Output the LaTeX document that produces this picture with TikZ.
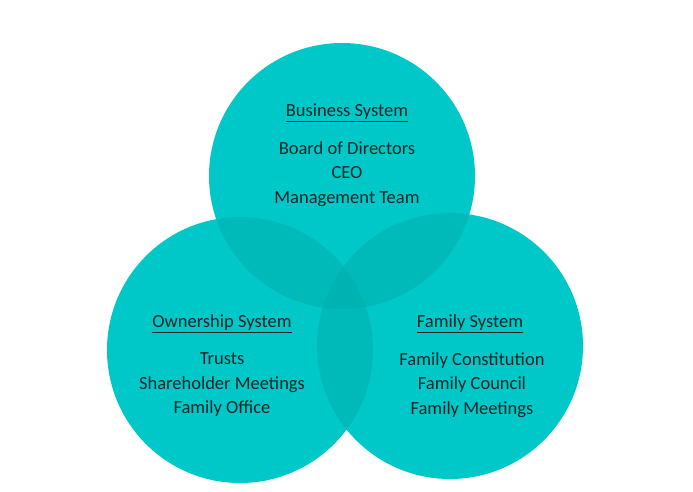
\documentclass[tikz,border=0pt]{standalone}
\usepackage{fontspec}
\setmainfont{Carlito}
\definecolor{tealA}{HTML}{00C8C8}
\definecolor{tealB}{HTML}{00BABA}
\definecolor{tealC}{HTML}{00B3B3}
\definecolor{txt}{HTML}{142626}
\begin{document}
\begin{tikzpicture}[x=1pt,y=-1pt,
  lbl/.style={align=center,text=txt,font=\fontsize{18.5}{24.5}\selectfont,inner sep=0pt},
  ttl/.style={text=txt,font=\fontsize{18.5}{20}\selectfont,inner sep=0pt}]
\useasboundingbox (0,0) rectangle (693,491);
\def\rr{133}
\coordinate (cT) at (342,176);
\coordinate (cL) at (240,350);
\coordinate (cR) at (450,346);
\fill[tealA] (cT) circle (\rr);
\fill[tealA] (cL) circle (\rr);
\fill[tealA] (cR) circle (\rr);
\begin{scope}
  \clip (cT) circle (\rr);
  \fill[tealB] (cL) circle (\rr);
  \fill[tealB] (cR) circle (\rr);
\end{scope}
\begin{scope}
  \clip (cL) circle (\rr);
  \fill[tealB] (cR) circle (\rr);
\end{scope}
\begin{scope}
  \clip (cT) circle (\rr);
  \clip (cL) circle (\rr);
  \fill[tealC] (cR) circle (\rr);
\end{scope}
\node[ttl] (tT) at (347,113) {\underline{Business System}};
\node[lbl] (bT) at (347,174) {Board of Directors\\CEO\\Management Team};
\node[ttl] (tL) at (222,324) {\underline{Ownership System}};
\node[lbl] (bL) at (222,385) {Trusts\\Shareholder Meetings\\Family Office};
\node[ttl] (tR) at (470,324) {\underline{Family System}};
\node[lbl] (bR) at (472,385) {Family Constitution\\Family Council\\Family Meetings};
\end{tikzpicture}
\end{document}
